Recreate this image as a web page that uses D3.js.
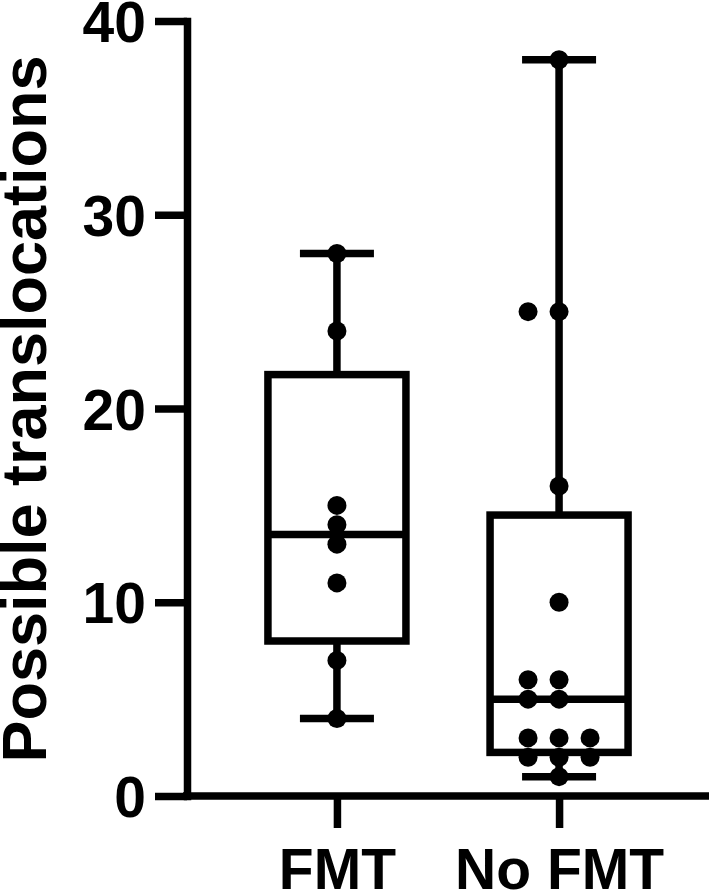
<!DOCTYPE html>
<html>
<head>
<meta charset="utf-8">
<script src="https://cdn.jsdelivr.net/npm/d3@7"></script>
<style>
  body { margin: 0; background: #fff; }
  text { font-family: "Liberation Sans", Arial, sans-serif; font-weight: bold; }
</style>
</head>
<body>
<div id="chart"></div>
<script>
// data
var groups = ["FMT", "No FMT"];
var fmtValues = [4, 7, 11, 13, 14, 15, 24, 28];
var noFmtValues = [1, 2, 2, 2, 3, 3, 3, 5, 5, 6, 6, 10, 16, 25, 25, 38];
var yTicks = [0, 10, 20, 30, 40];
var yTitle = "Possible translocations";

var width = 709, height = 892;
var lw = 7.5;        // line weight used everywhere
var dotR = 9.5;
var dotStep = 31;    // horizontal spacing between dots of same value
var boxHalf = 69, capHalf = 37;

var svg = d3.select("#chart").append("svg")
    .attr("width", width)
    .attr("height", height);

var y = d3.scaleLinear().domain([0, 40]).range([796, 21]);
var x = d3.scalePoint().domain(groups).range([187, 709]).padding(0.675);

// prism style quartiles ((n+1)p)
function quant(s, p) {
    var h = (s.length + 1) * p - 1;
    var lo = Math.floor(h);
    if (lo < 0) return s[0];
    if (lo >= s.length - 1) return s[s.length - 1];
    return s[lo] + (h - lo) * (s[lo + 1] - s[lo]);
}

var data = [
    {name: groups[0], values: fmtValues.slice().sort(d3.ascending)},
    {name: groups[1], values: noFmtValues.slice().sort(d3.ascending)}
];
data.forEach(function(d) {
    d.min = d3.min(d.values);
    d.max = d3.max(d.values);
    d.q1 = quant(d.values, 0.25);
    d.med = quant(d.values, 0.5);
    d.q3 = quant(d.values, 0.75);
});

// axes
var yAxis = svg.append("g")
    .attr("transform", "translate(187,0)")
    .call(d3.axisLeft(y).tickValues(yTicks).tickSize(32).tickSizeOuter(0).tickPadding(9));
yAxis.selectAll("line").attr("stroke", "#000").attr("stroke-width", lw);
yAxis.select(".domain").attr("stroke", "#000").attr("stroke-width", lw).attr("stroke-linecap", "square");
yAxis.selectAll("text")
    .attr("fill", "#000")
    .style("font-size", "57px")
    .attr("dy", "0.36em");

var xAxis = svg.append("g")
    .attr("transform", "translate(0,796)")
    .call(d3.axisBottom(x).tickSize(32).tickSizeOuter(0).tickPadding(12));
xAxis.selectAll("line").attr("stroke", "#000").attr("stroke-width", lw);
xAxis.select(".domain").attr("stroke", "#000").attr("stroke-width", lw).attr("d", "M183,0H712");
xAxis.selectAll("text")
    .attr("fill", "#000")
    .style("font-size", "57px")
    .attr("y", 93)
    .attr("dy", null);

svg.append("text")
    .attr("transform", "translate(46,409) rotate(-90)")
    .attr("text-anchor", "middle")
    .style("font-size", "63px")
    .text(yTitle);

// boxes + whiskers
var bx = svg.selectAll(".box").data(data).enter().append("g").attr("class", "box");

bx.append("line")
    .attr("x1", function(d) { return x(d.name); })
    .attr("x2", function(d) { return x(d.name); })
    .attr("y1", function(d) { return y(d.max); })
    .attr("y2", function(d) { return y(d.min); })
    .attr("stroke", "#000").attr("stroke-width", lw);

bx.append("rect")
    .attr("x", function(d) { return x(d.name) - boxHalf; })
    .attr("width", boxHalf * 2)
    .attr("y", function(d) { return y(d.q3); })
    .attr("height", function(d) { return y(d.q1) - y(d.q3); })
    .attr("fill", "#fff")
    .attr("stroke", "#000").attr("stroke-width", lw);

bx.append("line")
    .attr("x1", function(d) { return x(d.name) - boxHalf; })
    .attr("x2", function(d) { return x(d.name) + boxHalf; })
    .attr("y1", function(d) { return y(d.med); })
    .attr("y2", function(d) { return y(d.med); })
    .attr("stroke", "#000").attr("stroke-width", lw);

["min", "max"].forEach(function(k) {
    bx.append("line")
        .attr("x1", function(d) { return x(d.name) - capHalf; })
        .attr("x2", function(d) { return x(d.name) + capHalf; })
        .attr("y1", function(d) { return y(d[k]); })
        .attr("y2", function(d) { return y(d[k]); })
        .attr("stroke", "#000").attr("stroke-width", lw);
});

// simple swarm so equal values sit side by side
function swarm(d) {
    var placed = [];
    var slots = [0, -1, 1, -2, 2];
    d.values.forEach(function(v) {
        var cy = y(v);
        for (var i = 0; i < slots.length; i++) {
            var cx = x(d.name) + slots[i] * dotStep;
            var hit = placed.some(function(p) {
                return Math.hypot(p.cx - cx, p.cy - cy) < dotR * 2 - 0.5;
            });
            if (!hit) { placed.push({cx: cx, cy: cy}); break; }
        }
    });
    return placed;
}

data.forEach(function(d) {
    svg.append("g").selectAll("circle")
        .data(swarm(d))
        .enter().append("circle")
        .attr("cx", function(p) { return p.cx; })
        .attr("cy", function(p) { return p.cy; })
        .attr("r", dotR)
        .attr("fill", "#000");
});
</script>
</body>
</html>
